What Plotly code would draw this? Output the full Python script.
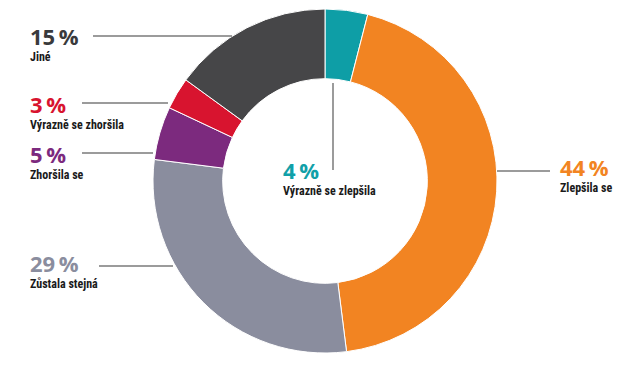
import plotly.graph_objects as go

labels = ["Výrazně se zlepšila", "Zlepšila se", "Zůstala stejná", "Zhoršila se", "Výrazně se zhoršila", "Jiné"]
values = [4, 44, 29, 5, 3, 15]
colors = ["#0e9ea6", "#f28422", "#8a8d9e", "#7c2a7e", "#d8142f", "#464648"]
pct_colors = ["#11a0a8", "#f28422", "#8a8d9e", "#7c2a7e", "#d8142f", "#3a3a3c"]

W, H = 640, 376
def px(x): return x / W
def py(y): return 1 - y / H

# label layout (pixel positions): text left x, number top y, leader line
label_pos = {
    "Výrazně se zlepšila": dict(x=284, yn=163, line=(333, 83, 333, 170)),
    "Zlepšila se": dict(x=561, yn=160, line=(497, 171, 550, 171)),
    "Zůstala stejná": dict(x=31, yn=256, line=(99, 266, 173, 266)),
    "Zhoršila se": dict(x=31, yn=147, line=(82, 153, 153, 153)),
    "Výrazně se zhoršila": dict(x=31, yn=97, line=(82, 103, 168, 103)),
    "Jiné": dict(x=31, yn=29, line=(93, 36, 232, 36)),
}

cx, cy, r = 325, 181, 172

fig = go.Figure(go.Pie(
    labels=labels, values=values, sort=False, direction="clockwise", rotation=0,
    hole=0.595, marker=dict(colors=colors, line=dict(color="white", width=1)),
    textinfo="none", hoverinfo="label+percent", showlegend=False,
    domain=dict(x=[px(cx - r), px(cx + r)], y=[py(cy + r), py(cy - r)]),
))

shapes, annotations = [], []
for lab, v, c in zip(labels, values, pct_colors):
    p = label_pos[lab]
    x0, y0, x1, y1 = p["line"]
    shapes.append(dict(type="line", xref="paper", yref="paper",
                       x0=px(x0), y0=py(y0), x1=px(x1), y1=py(y1),
                       line=dict(color="#7a7a7a", width=1.5)))
    txt = (f"<span style='font-family:Open Sans;font-size:22px;font-weight:700;color:{c}'>{v}\u2009%</span>"
           f"<br><b>{lab}</b>")
    annotations.append(dict(xref="paper", yref="paper", x=px(p["x"] - 2), y=py(p["yn"] - 9),
                            xanchor="left", yanchor="top", showarrow=False, align="left",
                            borderpad=0, text=txt,
                            font=dict(family="Liberation Sans Narrow, Roboto Condensed, Liberation Sans",
                                      size=12, color="#1a1a1a")))

fig.update_layout(width=W, height=H, margin=dict(l=0, r=0, t=0, b=0),
                  paper_bgcolor="white", plot_bgcolor="white",
                  shapes=shapes, annotations=annotations)
fig.write_html("out.html", config={"displayModeBar": False},
               post_script="document.body.style.margin='0';")
